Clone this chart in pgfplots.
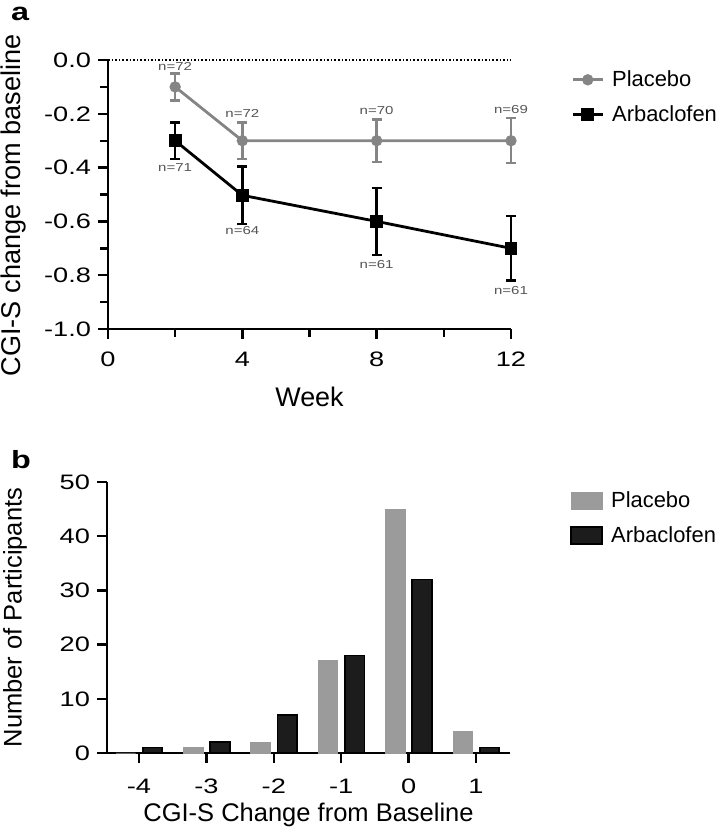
\documentclass[border=0pt]{standalone}
\usepackage{pgfplots}
\pgfplotsset{compat=1.18}
\usepackage{fontspec}
\setmainfont{Liberation Sans}
\newfontfamily\tickfont[FakeStretch=1.3]{Liberation Sans}
\definecolor{pgray}{HTML}{858585}
\definecolor{bgray}{HTML}{9B9B9B}
\definecolor{bblack}{HTML}{1C1C1C}
\definecolor{ntext}{HTML}{555555}

\begin{document}
\begin{tikzpicture}
\path[use as bounding box] (0,0) rectangle (360bp,-418.5bp);
\pgfplotsset{
 prism/.style={
  scale only axis, width=201.5bp,
  axis x line=bottom, axis y line=left,
  axis line style={-, line width=1.25bp},
  every tick/.style={black, line width=1.2bp},
  tick align=outside,
  major tick length=5bp, minor tick length=4bp,
  tick label style={font=\tickfont\fontsize{10.5}{12}\selectfont},
  /pgf/number format/assume math mode=true,
  clip=false,
  legend style={draw=none, fill=none, font=\fontsize{11}{13}\selectfont, at={(1,1)}, anchor=north west,
    row sep=4bp, column sep=2bp},
  legend cell align=left,
 }
}

\node[anchor=base west, font=\tickfont\bfseries\fontsize{12.5}{14}\selectfont] at (2bp,-10bp) {a};
\node[anchor=base west, font=\tickfont\bfseries\fontsize{12.5}{14}\selectfont] at (2bp,-234bp) {b};

% ---------- panel a ----------
\begin{axis}[prism, at={(54bp,-30bp)}, anchor=north west, height=134.5bp,
  xmin=0, xmax=12, ymin=-1, ymax=0,
  xtick={0,4,8,12}, minor xtick={2,6,10},
  ytick={-1,-0.8,-0.6,-0.4,-0.2,0},
  minor ytick={-0.9,-0.7,-0.5,-0.3,-0.1},
  xticklabel style={yshift=-3bp},
  yticklabel style={/pgf/number format/.cd, fixed, fixed zerofill, precision=1},
  xlabel={Week}, ylabel={CGI-S change from baseline},
  xlabel style={font=\fontsize{13.5}{15}\selectfont, at={(axis description cs:0.5,0)}, anchor=center, yshift=-34bp},
  ylabel style={font=\fontsize{13.6}{16}\selectfont, at={(axis description cs:-0.235,0.46)}, anchor=center},
  legend style={xshift=27bp, yshift=-1bp},
  legend image code/.code={\draw[mark repeat=2, mark phase=2, #1] plot coordinates {(0bp,0bp) (7.5bp,0bp) (15bp,0bp)};},
]
\addplot[densely dotted, black, line width=0.8bp, forget plot] coordinates {(0,0) (12,0)};
\addplot[color=pgray, line width=1.4bp, mark=*, mark size=2.1bp, mark options={solid},
  error bars/.cd, y dir=both, y explicit,
  error bar style={line width=1.2bp, pgray},
  error mark options={rotate=90, mark size=2.5bp, line width=1.2bp, pgray}]
  coordinates {(2,-0.10) +- (0,0.05) (4,-0.30) +- (0,0.067) (8,-0.30) +- (0,0.079) (12,-0.30) +- (0,0.084)};
\addlegendentry{Placebo}
\addplot[color=black, line width=1.4bp, mark=square*, mark size=2.5bp, mark options={solid},
  error bars/.cd, y dir=both, y explicit,
  error bar style={line width=1.2bp, black},
  error mark options={rotate=90, mark size=2.5bp, line width=1.2bp, black}]
  coordinates {(2,-0.30) +- (0,0.068) (4,-0.503) +- (0,0.107) (8,-0.60) +- (0,0.124) (12,-0.70) +- (0,0.12)};
\addlegendentry{Arbaclofen}
\begin{scope}[every node/.style={font=\tickfont\fontsize{5.8}{6.5}\selectfont, text=ntext, inner sep=0pt}]
\node at (axis cs:2,-0.025) {n=72};
\node at (axis cs:4,-0.20) {n=72};
\node at (axis cs:8,-0.186) {n=70};
\node at (axis cs:12,-0.183) {n=69};
\node at (axis cs:2,-0.40) {n=71};
\node at (axis cs:4,-0.634) {n=64};
\node at (axis cs:8,-0.76) {n=61};
\node at (axis cs:12,-0.857) {n=61};
\end{scope}
\end{axis}

% ---------- panel b ----------
\begin{axis}[prism, at={(53.5bp,-241bp)}, anchor=north west, height=135.5bp,
  ymin=0, ymax=50, xmin=-4.475, xmax=1.505,
  xtick={-4,-3,-2,-1,0,1}, ytick={0,10,20,30,40,50},
  xticklabel style={yshift=-4.5bp},
  ybar, bar width=0.29,
  xlabel={CGI-S Change from Baseline}, ylabel={Number of Participants},
  xlabel style={font=\fontsize{12.8}{14}\selectfont, at={(axis description cs:0.5,0)}, anchor=center, yshift=-31bp},
  ylabel style={font=\fontsize{12.8}{14}\selectfont, at={(axis description cs:-0.228,0.5)}, anchor=center},
  legend style={xshift=27bp, yshift=-0.5bp},
  legend image code/.code={\draw[#1] (0bp,-4.35bp) rectangle (15.5bp,4.35bp);},
]
\addplot[fill=bgray, draw=bgray, bar shift=-0.195] coordinates {(-4,0) (-3,1) (-2,2) (-1,17) (0,45) (1,4)};
\addlegendentry{Placebo}
\addplot[fill=bblack, draw=black, line width=0.9bp, bar shift=0.2] coordinates {(-4,1) (-3,2) (-2,7) (-1,18) (0,32) (1,1)};
\addlegendentry{Arbaclofen}
\end{axis}
\end{tikzpicture}
\end{document}
